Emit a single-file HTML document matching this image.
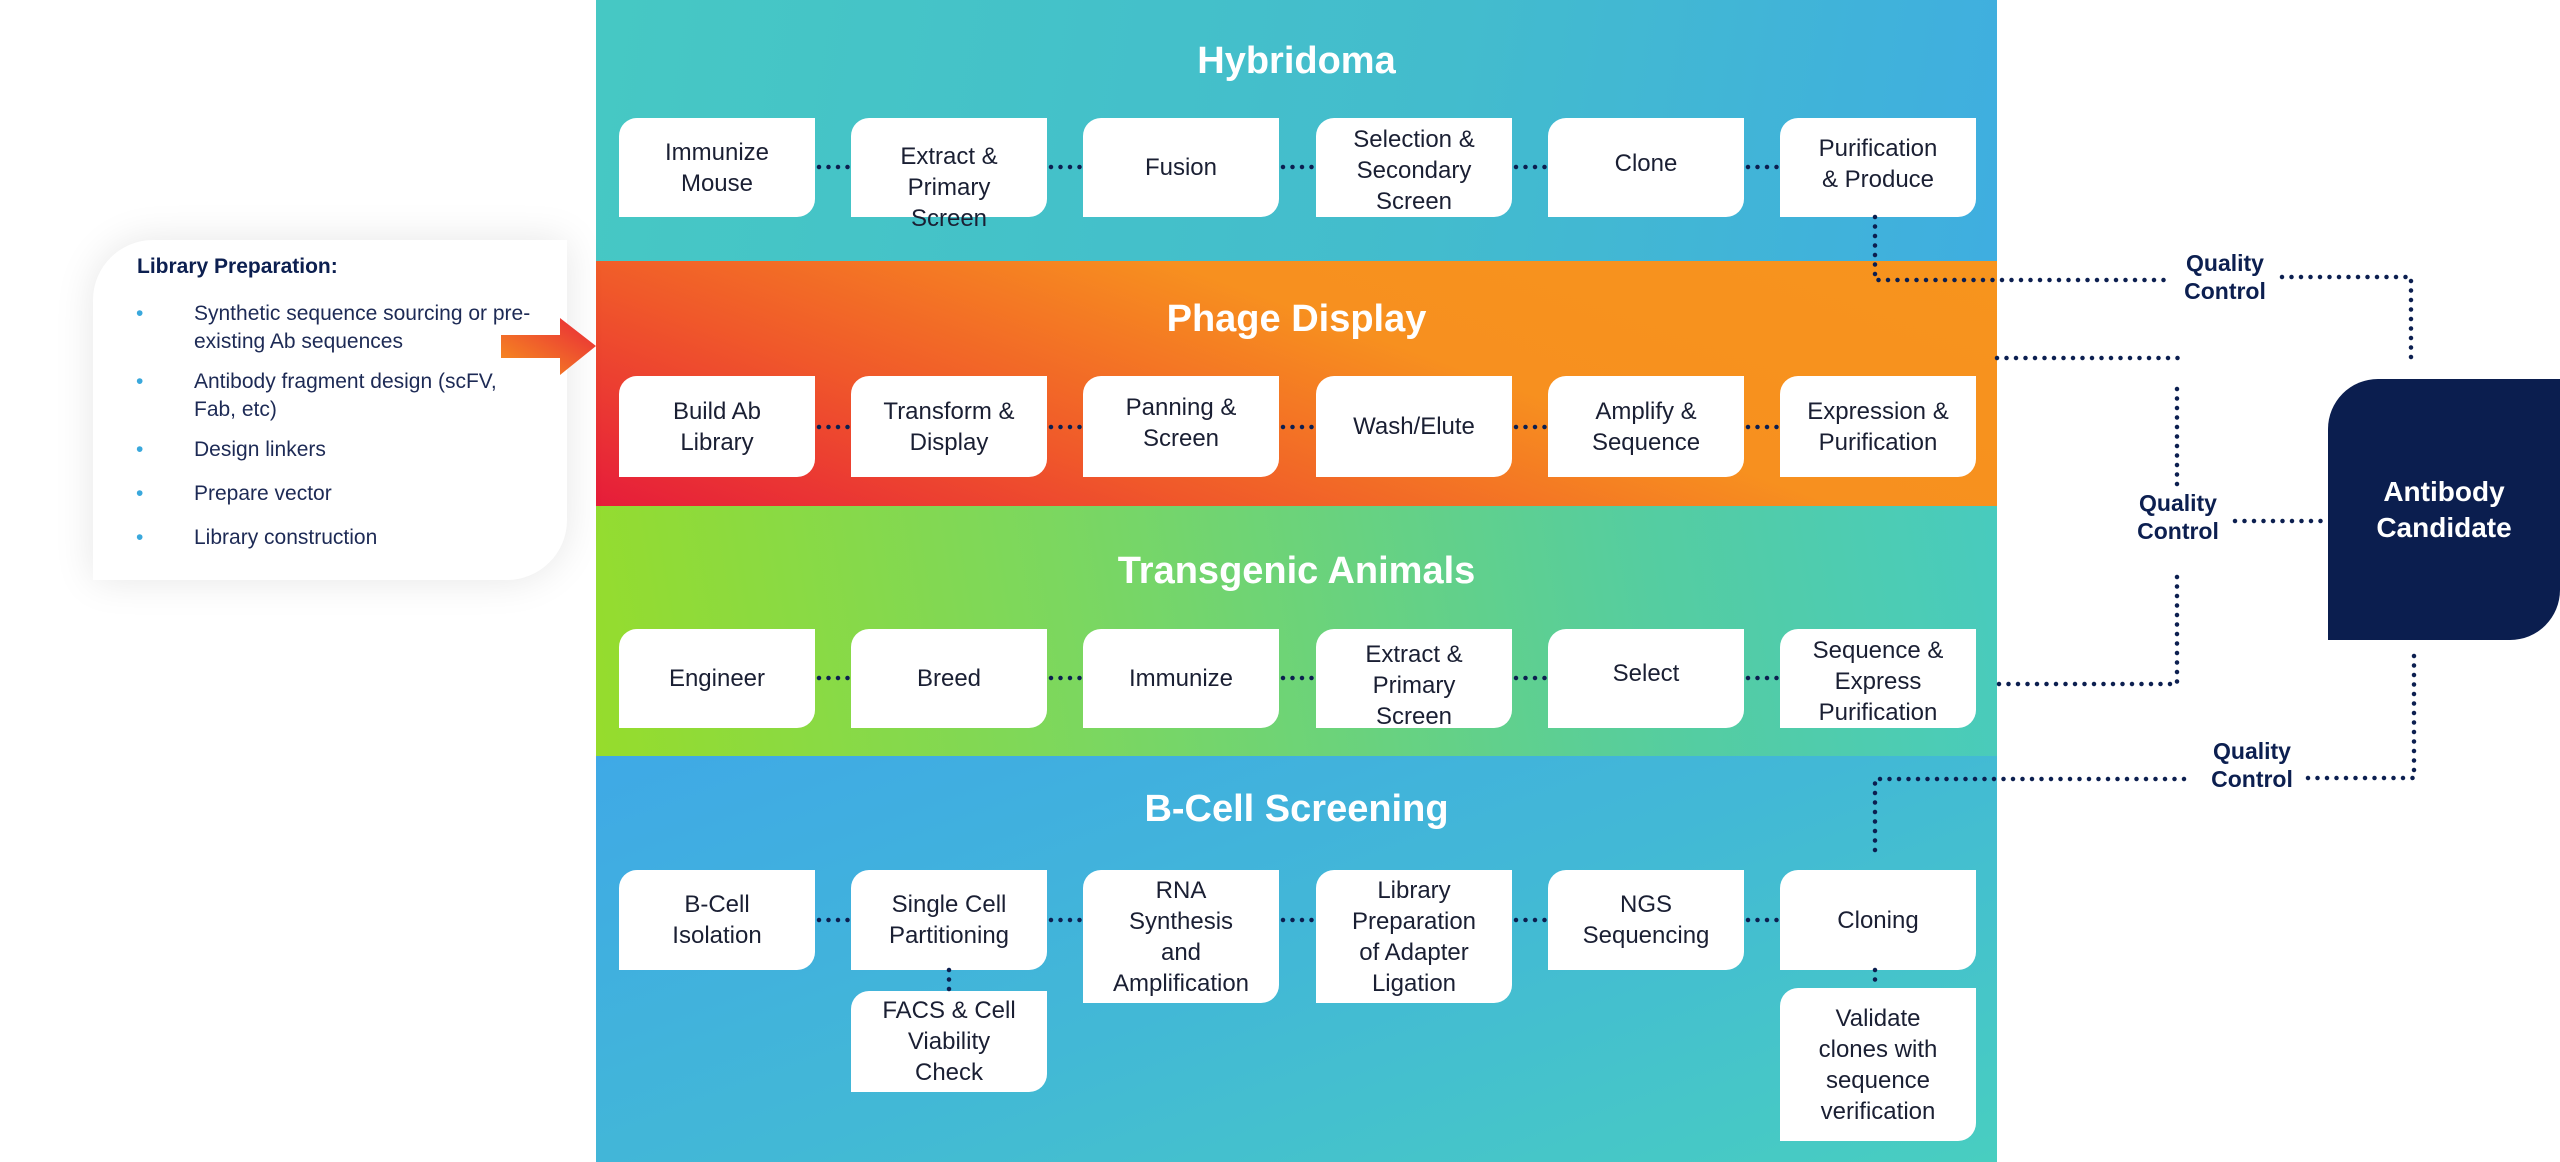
<!DOCTYPE html>
<html><head><meta charset="utf-8"><style>
*{margin:0;padding:0;box-sizing:border-box}
body{width:2560px;height:1162px;background:#fff;position:relative;overflow:hidden;font-family:"Liberation Sans",sans-serif;color:#1a1f33}
.band{position:absolute;left:596px;width:1401px}
.t{position:absolute;left:596px;width:1401px;text-align:center;color:#fff;font-weight:bold;font-size:38px}
.b{position:absolute;width:196px;background:#fff;border-radius:18px 0 18px 0;display:flex;align-items:center;justify-content:center;text-align:center;font-size:24px;line-height:31px;color:#1a1f33}
svg{position:absolute;left:0;top:0}
.qc{position:absolute;color:#0c1f50;font-weight:bold;font-size:23px;line-height:28px;text-align:center;width:120px}
</style></head><body>
<div class="band" style="top:0;height:261px;background:linear-gradient(100deg,#46c8c4 0%,#43bccd 60%,#3faee0 100%)"></div>
<div class="band" style="top:261px;height:245px;background:linear-gradient(20deg,#e61c3a 0%,#f0592a 30%,#f7901f 60%,#f7941d 100%)"></div>
<div class="band" style="top:506px;height:250px;background:linear-gradient(80deg,#96dc2c 0%,#7bd760 35%,#55cda0 75%,#48cbbe 100%)"></div>
<div class="band" style="top:756px;height:406px;background:linear-gradient(160deg,#3fa9e6 0%,#42b8d6 50%,#48cec0 100%)"></div>

<div class="t" style="top:40px">Hybridoma</div>
<div class="t" style="top:298px">Phage Display</div>
<div class="t" style="top:550px">Transgenic Animals</div>
<div class="t" style="top:788px">B-Cell Screening</div>

<div class="b" style="left:619px;top:118px;height:99px">Immunize<br>Mouse</div>
<div class="b" style="left:851px;top:118px;height:99px;align-items:flex-start;padding-top:23px">Extract &amp;<br>Primary<br>Screen</div>
<div class="b" style="left:1083px;top:118px;height:99px">Fusion</div>
<div class="b" style="left:1316px;top:118px;height:99px;align-items:flex-start;padding-top:6px">Selection &amp;<br>Secondary<br>Screen</div>
<div class="b" style="left:1548px;top:118px;height:99px;padding-bottom:8px">Clone</div>
<div class="b" style="left:1780px;top:118px;height:99px;padding-bottom:8px">Purification<br>&amp; Produce</div>

<div class="b" style="left:619px;top:376px;height:101px">Build Ab<br>Library</div>
<div class="b" style="left:851px;top:376px;height:101px">Transform &amp;<br>Display</div>
<div class="b" style="left:1083px;top:376px;height:101px;padding-bottom:8px">Panning &amp;<br>Screen</div>
<div class="b" style="left:1316px;top:376px;height:101px">Wash/Elute</div>
<div class="b" style="left:1548px;top:376px;height:101px">Amplify &amp;<br>Sequence</div>
<div class="b" style="left:1780px;top:376px;height:101px">Expression &amp;<br>Purification</div>

<div class="b" style="left:619px;top:629px;height:99px">Engineer</div>
<div class="b" style="left:851px;top:629px;height:99px">Breed</div>
<div class="b" style="left:1083px;top:629px;height:99px">Immunize</div>
<div class="b" style="left:1316px;top:629px;height:99px;align-items:flex-start;padding-top:10px">Extract &amp;<br>Primary<br>Screen</div>
<div class="b" style="left:1548px;top:629px;height:99px;padding-bottom:10px">Select</div>
<div class="b" style="left:1780px;top:629px;height:99px;align-items:flex-start;padding-top:6px">Sequence &amp;<br>Express<br>Purification</div>

<div class="b" style="left:619px;top:870px;height:100px">B-Cell<br>Isolation</div>
<div class="b" style="left:851px;top:870px;height:100px">Single Cell<br>Partitioning</div>
<div class="b" style="left:1083px;top:870px;height:133px">RNA<br>Synthesis<br>and<br>Amplification</div>
<div class="b" style="left:1316px;top:870px;height:133px">Library<br>Preparation<br>of Adapter<br>Ligation</div>
<div class="b" style="left:1548px;top:870px;height:100px">NGS<br>Sequencing</div>
<div class="b" style="left:1780px;top:870px;height:100px">Cloning</div>
<div class="b" style="left:851px;top:991px;height:101px">FACS &amp; Cell<br>Viability<br>Check</div>
<div class="b" style="left:1780px;top:988px;height:153px">Validate<br>clones with<br>sequence<br>verification</div>

<svg width="2560" height="1162">
<g stroke="#0c1f50" stroke-width="4.5" stroke-linecap="round" stroke-dasharray="0 9.5" fill="none">
<path d="M819,167H851M1051,167H1083M1283,167H1316M1516,167H1548M1748,167H1780"/>
<path d="M819,427H851M1051,427H1083M1283,427H1316M1516,427H1548M1748,427H1780"/>
<path d="M819,678H851M1051,678H1083M1283,678H1316M1516,678H1548M1748,678H1780"/>
<path d="M819,920H851M1051,920H1083M1283,920H1316M1516,920H1548M1748,920H1780"/>
<path d="M949,970V991M1875,970V988"/>
<path d="M1875,217V280H2168M2282,277H2411V362"/>
<path d="M1997,358H2178M2177,389V492M2235,521H2328M2177,577V684H1997"/>
<path d="M1875,850V779H2191M2308,778H2414V650"/>
</g>
</svg>
<div class="qc" style="left:2165px;top:249px">Quality<br>Control</div>
<div class="qc" style="left:2118px;top:489px">Quality<br>Control</div>
<div class="qc" style="left:2192px;top:737px">Quality<br>Control</div>

<div style="position:absolute;left:2328px;top:379px;width:232px;height:261px;background:#0b1e4f;border-radius:50px 0 50px 0;display:flex;align-items:center;justify-content:center;text-align:center;color:#fff;font-weight:bold;font-size:28px;line-height:36px">Antibody<br>Candidate</div>

<div style="position:absolute;left:93px;top:240px;width:474px;height:340px;background:#fff;border-radius:60px 0 60px 0;box-shadow:0 0 40px rgba(0,0,0,0.10)">
<div style="position:absolute;left:44px;top:15px;font-weight:bold;font-size:21px;color:#0c1f50">Library Preparation:</div>
<div style="position:absolute;left:0;top:60px;font-size:21px;color:#1d2a55;line-height:28px">
<div style="position:relative;margin-bottom:12px"><span style="position:absolute;left:43px;color:#3aa8dc">•</span><div style="margin-left:101px">Synthetic sequence sourcing or pre-<br>existing Ab sequences</div></div>
<div style="position:relative;margin-bottom:12px"><span style="position:absolute;left:43px;color:#3aa8dc">•</span><div style="margin-left:101px">Antibody fragment design (scFV,<br>Fab, etc)</div></div>
<div style="position:relative;margin-bottom:16px"><span style="position:absolute;left:43px;color:#3aa8dc">•</span><div style="margin-left:101px">Design linkers</div></div>
<div style="position:relative;margin-bottom:16px"><span style="position:absolute;left:43px;color:#3aa8dc">•</span><div style="margin-left:101px">Prepare vector</div></div>
<div style="position:relative"><span style="position:absolute;left:43px;color:#3aa8dc">•</span><div style="margin-left:101px">Library construction</div></div>
</div>
</div>
<svg width="2560" height="1162">
<defs>
<linearGradient id="ar" x1="0" y1="1" x2="1" y2="0"><stop offset="0" stop-color="#f7941d"/><stop offset="1" stop-color="#e8263a"/></linearGradient>
</defs>
<polygon points="501,335 560,335 560,318 596,346 560,375 560,358 501,358" fill="url(#ar)"/>
</svg>
</body></html>
